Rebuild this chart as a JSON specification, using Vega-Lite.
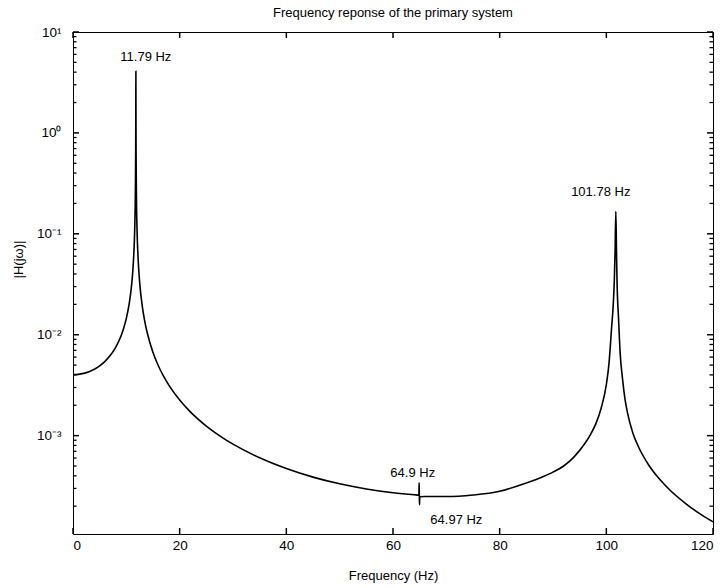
{
  "$schema": "https://vega.github.io/schema/vega-lite/v6.json",
  "width": 640,
  "height": 502,
  "autosize": "none",
  "padding": {"left": 73, "top": 32, "right": 10, "bottom": 54},
  "background": "white",
  "config": {
    "view": {"stroke": "black", "strokeWidth": 1},
    "font": "Liberation Sans",
    "axis": {
      "domain": false, "ticks": false, "labelColor": "black", "titleColor": "black",
      "labelFont": "Liberation Sans", "titleFont": "Liberation Sans",
      "labelFontSize": 13.5, "titleFontSize": 13, "titleFontWeight": "normal",
      "grid": false
    }
  },
  "title": {"text": "Frequency reponse of the primary system", "fontSize": 13, "fontWeight": "normal", "color": "black", "font": "Liberation Sans", "offset": 5},
  "datasets": {
    "curve": [
      {"f": 0, "v": 0.00402}, {"f": 1, "v": 0.00405}, {"f": 2, "v": 0.004141}, {"f": 3, "v": 0.0043},
      {"f": 4, "v": 0.004552}, {"f": 5, "v": 0.00492}, {"f": 6, "v": 0.00545}, {"f": 7, "v": 0.006247},
      {"f": 8, "v": 0.00751}, {"f": 9, "v": 0.00973}, {"f": 9.5, "v": 0.01159}, {"f": 10, "v": 0.01451},
      {"f": 10.5, "v": 0.01971}, {"f": 11, "v": 0.03151}, {"f": 11.3, "v": 0.0502}, {"f": 11.5, "v": 0.0841},
      {"f": 11.6, "v": 0.128}, {"f": 11.7, "v": 0.269}, {"f": 11.75, "v": 0.597}, {"f": 11.77, "v": 1.158},
      {"f": 11.78, "v": 2.078}, {"f": 11.79, "v": 4.09}, {"f": 11.8, "v": 2.078}, {"f": 11.81, "v": 1.158},
      {"f": 11.83, "v": 0.595}, {"f": 11.9, "v": 0.2182}, {"f": 12, "v": 0.1137}, {"f": 12.2, "v": 0.05785},
      {"f": 12.5, "v": 0.03303}, {"f": 13, "v": 0.01902}, {"f": 13.5, "v": 0.01321}, {"f": 14, "v": 0.010045},
      {"f": 15, "v": 0.006681}, {"f": 16, "v": 0.00493}, {"f": 17, "v": 0.00386}, {"f": 18, "v": 0.003146},
      {"f": 20, "v": 0.002251}, {"f": 22, "v": 0.001721}, {"f": 25, "v": 0.001244}, {"f": 28, "v": 0.000957},
      {"f": 30, "v": 0.000824}, {"f": 35, "v": 0.000603}, {"f": 40, "v": 0.000472}, {"f": 45, "v": 0.000388},
      {"f": 50, "v": 0.000333}, {"f": 55, "v": 0.000296}, {"f": 60, "v": 0.0002715}, {"f": 64, "v": 0.0002595},
      {"f": 64.85, "v": 0.0002575}, {"f": 64.9, "v": 0.00034}, {"f": 64.94, "v": 0.000252}, {"f": 64.97, "v": 0.000207},
      {"f": 65.02, "v": 0.000248}, {"f": 66, "v": 0.000249}, {"f": 70, "v": 0.000249}, {"f": 75, "v": 0.000258},
      {"f": 80, "v": 0.000281}, {"f": 85, "v": 0.00034}, {"f": 88, "v": 0.00039}, {"f": 90, "v": 0.000435},
      {"f": 92, "v": 0.0005}, {"f": 94, "v": 0.00062}, {"f": 96, "v": 0.00084}, {"f": 97, "v": 0.00102},
      {"f": 98, "v": 0.0013}, {"f": 99, "v": 0.00185}, {"f": 100, "v": 0.0032}, {"f": 100.5, "v": 0.0052},
      {"f": 101, "v": 0.012}, {"f": 101.3, "v": 0.02}, {"f": 101.5, "v": 0.035}, {"f": 101.65, "v": 0.07},
      {"f": 101.78, "v": 0.166}, {"f": 101.9, "v": 0.07}, {"f": 102, "v": 0.035}, {"f": 102.3, "v": 0.0141},
      {"f": 102.6, "v": 0.0065}, {"f": 103, "v": 0.0038}, {"f": 103.5, "v": 0.0023}, {"f": 104, "v": 0.00165},
      {"f": 105, "v": 0.00105}, {"f": 106, "v": 0.00078}, {"f": 108, "v": 0.000506}, {"f": 110, "v": 0.000369},
      {"f": 112, "v": 0.000286}, {"f": 115, "v": 0.00021}, {"f": 118, "v": 0.000162}, {"f": 120, "v": 0.00014}
    ],
    "notes": [
      {"f": 8.87, "v": 5.61, "label": "11.79 Hz"},
      {"f": 93.4, "v": 0.259, "label": "101.78 Hz"},
      {"f": 59.5, "v": 0.000422, "label": "64.9 Hz"},
      {"f": 67.0, "v": 0.0001456, "label": "64.97 Hz"}
    ],
    "yticks": [
      {"t": 0.0002, "major": false}, {"t": 0.0003, "major": false}, {"t": 0.0004, "major": false}, {"t": 0.0005, "major": false},
      {"t": 0.0006, "major": false}, {"t": 0.0007, "major": false}, {"t": 0.0008, "major": false}, {"t": 0.0009, "major": false},
      {"t": 0.001, "major": true},
      {"t": 0.002, "major": false}, {"t": 0.003, "major": false}, {"t": 0.004, "major": false}, {"t": 0.005, "major": false},
      {"t": 0.006, "major": false}, {"t": 0.007, "major": false}, {"t": 0.008, "major": false}, {"t": 0.009, "major": false},
      {"t": 0.01, "major": true},
      {"t": 0.02, "major": false}, {"t": 0.03, "major": false}, {"t": 0.04, "major": false}, {"t": 0.05, "major": false},
      {"t": 0.06, "major": false}, {"t": 0.07, "major": false}, {"t": 0.08, "major": false}, {"t": 0.09, "major": false},
      {"t": 0.1, "major": true},
      {"t": 0.2, "major": false}, {"t": 0.3, "major": false}, {"t": 0.4, "major": false}, {"t": 0.5, "major": false},
      {"t": 0.6, "major": false}, {"t": 0.7, "major": false}, {"t": 0.8, "major": false}, {"t": 0.9, "major": false},
      {"t": 1, "major": true},
      {"t": 2, "major": false}, {"t": 3, "major": false}, {"t": 4, "major": false}, {"t": 5, "major": false},
      {"t": 6, "major": false}, {"t": 7, "major": false}, {"t": 8, "major": false}, {"t": 9, "major": false},
      {"t": 10, "major": true}
    ],
    "xticks": [{"t": 0}, {"t": 20}, {"t": 40}, {"t": 60}, {"t": 80}, {"t": 100}, {"t": 120}]
  },
  "layer": [
    {
      "data": {"name": "curve"},
      "mark": {"type": "line", "color": "black", "strokeWidth": 1.6, "interpolate": "monotone", "clip": true},
      "encoding": {
        "x": {"field": "f", "type": "quantitative", "scale": {"domain": [0, 120], "nice": false, "zero": false},
          "axis": {"orient": "bottom", "values": [0, 20, 40, 60, 80, 100, 120], "labelPadding": 4.5,
            "title": "Frequency (Hz)", "titleBaseline": "alphabetic", "titleY": 45.5}},
        "y": {"field": "v", "type": "quantitative", "scale": {"type": "log", "domain": [0.000106, 10], "nice": false},
          "axis": {"orient": "left", "values": [0.001, 0.01, 0.1, 1, 10], "labelPadding": 12,
            "labelExpr": "datum.value > 5 ? '10\u00b9' : datum.value > 0.5 ? '10\u2070' : datum.value > 0.05 ? '10\u207b\u00b9' : datum.value > 0.005 ? '10\u207b\u00b2' : '10\u207b\u00b3'",
            "title": "|H(jω)|", "titleX": -55, "titleY": 227, "titleAngle": -90, "titleBaseline": "middle", "titleAlign": "center"}}
      }
    },
    {
      "data": {"name": "yticks"},
      "transform": [{"filter": "datum.major"}],
      "mark": {"type": "rule", "color": "black", "strokeWidth": 1.5},
      "encoding": {
        "y": {"field": "t", "type": "quantitative"},
        "x": {"datum": 0, "type": "quantitative"},
        "x2": {"datum": 1.125}
      }
    },
    {
      "data": {"name": "yticks"},
      "transform": [{"filter": "datum.major"}],
      "mark": {"type": "rule", "color": "black", "strokeWidth": 1.5},
      "encoding": {
        "y": {"field": "t", "type": "quantitative"},
        "x": {"datum": 120, "type": "quantitative"},
        "x2": {"datum": 118.875}
      }
    },
    {
      "data": {"name": "yticks"},
      "transform": [{"filter": "!datum.major"}],
      "mark": {"type": "rule", "color": "black", "strokeWidth": 1.3},
      "encoding": {
        "y": {"field": "t", "type": "quantitative"},
        "x": {"datum": 0, "type": "quantitative"},
        "x2": {"datum": 0.656}
      }
    },
    {
      "data": {"name": "yticks"},
      "transform": [{"filter": "!datum.major"}],
      "mark": {"type": "rule", "color": "black", "strokeWidth": 1.3},
      "encoding": {
        "y": {"field": "t", "type": "quantitative"},
        "x": {"datum": 120, "type": "quantitative"},
        "x2": {"datum": 119.344}
      }
    },
    {
      "data": {"name": "xticks"},
      "mark": {"type": "rule", "color": "black", "strokeWidth": 1.5},
      "encoding": {
        "x": {"field": "t", "type": "quantitative"},
        "y": {"datum": 0.000106, "type": "quantitative"},
        "y2": {"datum": 0.0001216}
      }
    },
    {
      "data": {"name": "xticks"},
      "mark": {"type": "rule", "color": "black", "strokeWidth": 1.5},
      "encoding": {
        "x": {"field": "t", "type": "quantitative"},
        "y": {"datum": 10, "type": "quantitative"},
        "y2": {"datum": 8.72}
      }
    },
    {
      "data": {"name": "notes"},
      "mark": {"type": "text", "align": "left", "baseline": "middle", "fontSize": 13, "font": "Liberation Sans", "color": "black"},
      "encoding": {
        "x": {"field": "f", "type": "quantitative"},
        "y": {"field": "v", "type": "quantitative"},
        "text": {"field": "label", "type": "nominal"}
      }
    }
  ]
}
